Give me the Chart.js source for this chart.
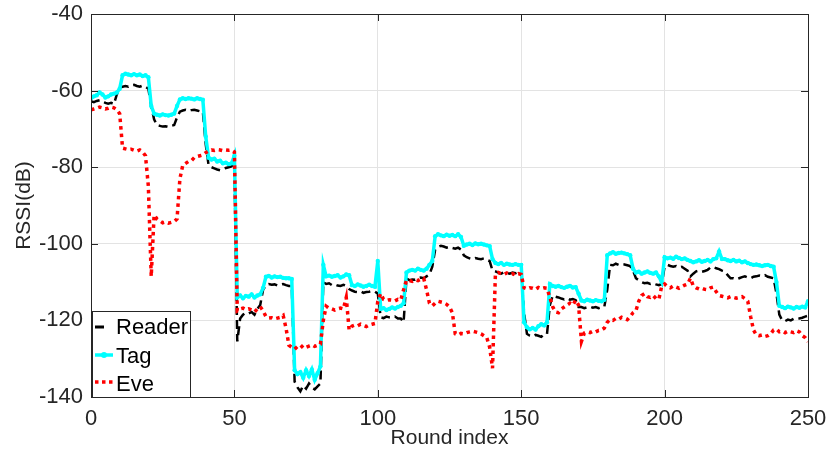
<!DOCTYPE html>
<html><head><meta charset="utf-8">
<script src="https://cdn.jsdelivr.net/npm/chart.js@4/dist/chart.umd.min.js"></script>
<style>html,body{margin:0;padding:0;background:#fff;}canvas{display:block;}</style>
</head><body>
<canvas id="c" width="828" height="463" style="width:828px;height:463px"></canvas>
<script>
const seriesNames = ['Reader', 'Tag', 'Eve'];
const xTickLabels = [0, 50, 100, 150, 200, 250];
const yTickLabels = [-140, -120, -100, -80, -60, -40];

// RSSI per round index (index 0..250)
const reader = [
-62.8,-63,-62.7,-62.5,-62.8,-63.2,-63.4,-63.2,-63.5,-61,-59.2,
-59,-58.8,-59,-58.6,-58.5,-58.8,-59,-58.7,-59,-59.5,
-64,-67.5,-69,-69.2,-69.4,-69.3,-69.5,-69.2,-69,-67,
-65.5,-65.2,-65,-65.3,-65.1,-65,-65.2,-65.4,-65.5,-74,
-79.5,-80,-80.3,-80.6,-80.8,-80.5,-80.2,-80,-79.8,-79,
-125.5,-119.5,-118.5,-118,-118.2,-117.8,-118.5,-117,-116,-112,
-110.8,-110.5,-110.7,-110.6,-110.9,-110.7,-110.5,-110.8,-111,-111,
-136,-137.5,-138.5,-137,-137.8,-136.5,-137.5,-138,-137.2,-136.5,
-110,-110.5,-110.3,-110.8,-110.6,-110.9,-111,-110.7,-111,-111.8,
-112.2,-112.5,-112.6,-112.4,-112.8,-112.6,-112.5,-112.3,-112.5,-113,
-119.2,-119.4,-119,-119.2,-119.3,-119,-119.5,-119.5,-120.5,-109,
-109.5,-109.3,-109.4,-109,-108.8,-109,-108.5,-108,-106,-101.5,
-100.8,-100.5,-100.7,-101,-100.8,-101.1,-101.3,-101,-101.5,-103,
-103.5,-103.8,-104,-103.7,-103.9,-104,-103.8,-104.2,-104.5,-107,
-107.2,-107.5,-107.8,-107.4,-107.6,-107.8,-107.5,-107.7,-107.4,-107.5,
-118,-123.5,-124,-124.2,-123.8,-124,-124.3,-123.6,-123.5,-116,
-113.5,-113.8,-114,-114.3,-114.5,-114.2,-114.6,-114.4,-114.7,-116.5,
-116.5,-116.8,-116.6,-116.4,-116.7,-116.5,-116.8,-116.6,-116.4,-112,
-105.5,-105.6,-105.2,-105.5,-105.3,-105.4,-105.6,-105.8,-107,-109,
-109.5,-110,-110.3,-110.2,-110.5,-110.3,-110.6,-110.8,-110.5,-106,
-105.5,-105.8,-106,-105.8,-106.2,-106,-106.5,-107,-108.5,-107.8,
-107.2,-107,-107.3,-107.1,-106.8,-106.2,-106,-106.4,-106.6,-107,
-107.2,-108.2,-109,-109,-109.3,-109,-108.7,-108.5,-108.8,-109,
-108.6,-108.5,-108.3,-108.5,-108.2,-108.6,-108.8,-109,-113,-118.5,
-120,-120.2,-119.8,-120,-119.6,-119.4,-119.5,-119.3,-119,-118.8
];
const tag = [
-62,-61.5,-61.2,-60.5,-61,-61.8,-61.5,-61,-60.8,-60.5,-59.5,
-56,-55.6,-55.8,-56,-55.7,-56,-55.8,-56.2,-56,-56.5,
-64,-66,-66.3,-66.5,-66.2,-66.4,-66.5,-66.3,-66,-64,
-62.3,-62,-62.2,-62,-62.1,-62.3,-62,-62.2,-62.4,-72,
-77.5,-78,-77.8,-78.5,-78.3,-79,-78.8,-79.2,-79,-77,
-114,-113.5,-114.2,-113.6,-113.8,-113.2,-114,-113.5,-113.2,-111.5,
-108.6,-108.4,-108.8,-108.5,-108.7,-108.6,-108.9,-109,-109,-109.2,
-133,-134,-133.5,-135,-133,-134.5,-132.8,-135.5,-133.8,-132,
-105.5,-108.5,-108.3,-108.6,-108.4,-108.2,-108.8,-108.5,-108,-108.2,
-110.8,-111,-110.6,-110.9,-111.2,-111,-110.7,-111,-111.2,-104.5,
-117,-116.8,-117.3,-117,-116.6,-116.9,-116.5,-116.2,-115.5,-107.5,
-107,-106.8,-107,-106.5,-106.8,-107,-106.5,-105.5,-104.5,-98,
-97.5,-97.8,-98,-97.6,-97.9,-97.7,-98,-97.5,-98.2,-100.5,
-100.2,-100,-100.3,-99.9,-100.1,-100,-100.2,-100.4,-100.6,-104,
-105,-105.3,-105,-105.5,-105.2,-105.4,-105.5,-105.3,-105.5,-105.5,
-120.5,-121.8,-122.3,-122,-122.4,-121.5,-121,-121.3,-120.5,-110.5,
-111,-111.2,-111,-111.3,-111.5,-111.2,-111,-111.4,-111.3,-113,
-114.8,-115,-114.6,-114.8,-115,-114.7,-114.9,-115,-114.6,-103,
-102.5,-102.2,-102.6,-102.4,-102.3,-102.5,-102.7,-103,-106.5,-107.5,
-107.3,-107.8,-107.5,-107.2,-107.6,-107.8,-107.5,-108.5,-110,-103.5,
-103.8,-103.6,-103.9,-103.4,-103.7,-104,-103.8,-104.2,-104.5,-104.8,
-104.6,-104.3,-104.7,-104.5,-104.2,-104.6,-104,-103.8,-102,-104,
-104,-104.3,-104.5,-104.2,-104.6,-104.4,-104.8,-104.6,-105,-105.3,
-105.5,-105.4,-105.6,-105.8,-105.6,-105.5,-105.8,-106,-110,-116.2,
-116.5,-116.8,-116.4,-116.6,-116.9,-116.5,-116.7,-116.4,-116.6,-115
];
const eve = [
-65,-64.8,-64.6,-64.3,-64.5,-64.8,-64.6,-64.3,-64.5,-65,-66,
-75,-75.2,-75.4,-75.3,-75.6,-75.8,-75.5,-76,-77,-85,
-108.5,-92.5,-93.5,-94,-94.5,-94.3,-94.6,-94.4,-94.2,-93.5,
-83,-79.5,-79,-78.5,-78.3,-77.5,-77.2,-77,-76.8,-76.2,
-75.8,-75.5,-75.6,-75.4,-75.5,-75.7,-75.5,-75.6,-75.5,-76,
-117.5,-117,-116.8,-117.2,-117,-117.3,-117.8,-117,-116.4,-117.5,
-119,-119.4,-119.3,-119.6,-119.4,-119.2,-118.7,-122,-126.5,-127,
-127.5,-126.8,-127.2,-126.5,-127,-126.7,-126.4,-126.8,-126.5,-126.2,
-120,-116.3,-116.8,-117,-117.3,-117,-116.8,-117,-114,-122.5,
-121.5,-121.2,-121.4,-121,-121.3,-121.6,-121.2,-121,-120.8,-115,
-113,-114.5,-114.8,-114.6,-114.7,-114.9,-114.5,-114.7,-112,-109.5,
-109.6,-109.8,-109.4,-109.6,-109.2,-109,-112,-115.5,-116.2,-115.5,
-115,-115.2,-115.4,-115.8,-116.5,-118,-123.5,-123.8,-123.4,-123.5,
-123.2,-123,-122.8,-123,-123.2,-123.5,-124,-124.5,-127,-132.5,
-108,-107.5,-107.8,-108,-107.6,-108,-107.8,-108.2,-107.8,-108,
-111.5,-111.8,-111.5,-111.6,-111.9,-111.4,-111.7,-111.5,-111.6,-114,
-116.5,-117.8,-118,-117,-116.5,-116,-115.5,-116,-114.7,-116,
-125.5,-123.3,-123,-123.2,-122.8,-123,-122.6,-122.5,-122,-120.5,
-119.8,-120,-119.5,-119.7,-119.2,-119.5,-119.8,-119,-118,-117.5,
-115,-113.5,-113,-113.8,-114,-113.5,-114.3,-114.5,-111,-110.5,
-111.2,-111.5,-111,-111.3,-111.6,-111.2,-110.8,-110.5,-109,-111,
-111.5,-111.8,-111.6,-111.9,-112,-111.5,-111.3,-112.5,-113.5,-113.7,
-113.9,-114.1,-113.8,-114,-114.2,-114,-113.8,-114.3,-115,-119,
-122.5,-123.8,-124,-123.8,-124.2,-124,-123.5,-122.5,-122.3,-123,
-122.8,-123.2,-122.8,-123,-123.2,-122.7,-123,-124,-124.5,-125.6
];

const toXY = arr => arr.map((v, i) => ({x: i, y: v}));
const FONT = '"Liberation Sans", Arial, Helvetica, sans-serif';
const AX = '#262626';

const framePlugin = {
  id: 'frame',
  afterDatasetsDraw(chart) {
    const {ctx, chartArea: a, scales} = chart;
    ctx.save();
    ctx.strokeStyle = AX; ctx.lineWidth = 1;
    ctx.beginPath();
    ctx.rect(Math.round(a.left) + 0.5, Math.round(a.top) + 0.5, Math.round(a.right - a.left), Math.round(a.bottom - a.top));
    const tl = 7;
    xTickLabels.forEach(t => {
      const x = Math.round(scales.x.getPixelForValue(t)) + 0.5;
      ctx.moveTo(x, a.bottom); ctx.lineTo(x, a.bottom - tl);
      ctx.moveTo(x, a.top); ctx.lineTo(x, a.top + tl);
    });
    yTickLabels.forEach(t => {
      const y = Math.round(scales.y.getPixelForValue(t)) + 0.5;
      ctx.moveTo(a.left, y); ctx.lineTo(a.left + tl, y);
      ctx.moveTo(a.right, y); ctx.lineTo(a.right - tl, y);
    });
    ctx.stroke();
    ctx.restore();
  },
  afterDraw(chart) {
    const {ctx, chartArea: a} = chart;
    const L = a.left + 1, T = a.bottom - 86, W = 98, H = 86;
    ctx.save();
    ctx.fillStyle = '#fff';
    ctx.fillRect(L, T, W, H);
    ctx.strokeStyle = AX; ctx.lineWidth = 1;
    ctx.strokeRect(L + 0.5, T + 0.5, W, H);
    const x0 = L + 3, x1 = L + 21, tx = L + 24;
    const rows = [T + 16, T + 44, T + 71];
    const bases = [T + 23, T + 52, T + 80];
    // Reader
    ctx.setLineDash([9, 9]); ctx.strokeStyle = '#000'; ctx.lineWidth = 3;
    ctx.beginPath(); ctx.moveTo(x0, rows[0]); ctx.lineTo(x1, rows[0]); ctx.stroke();
    // Tag
    ctx.setLineDash([]); ctx.strokeStyle = '#00ffff'; ctx.lineWidth = 3.5;
    ctx.beginPath(); ctx.moveTo(x0, rows[1]); ctx.lineTo(x1, rows[1]); ctx.stroke();
    ctx.fillStyle = '#00ffff';
    ctx.beginPath(); ctx.arc((x0 + x1) / 2, rows[1], 3, 0, Math.PI * 2); ctx.fill();
    // Eve
    ctx.setLineDash([3.5, 3.5]); ctx.strokeStyle = '#ff0000'; ctx.lineWidth = 3.5;
    ctx.beginPath(); ctx.moveTo(x0, rows[2]); ctx.lineTo(x1, rows[2]); ctx.stroke();
    ctx.setLineDash([]);
    ctx.fillStyle = '#000';
    ctx.font = '22px ' + FONT;
    ctx.textBaseline = 'alphabetic'; ctx.textAlign = 'left';
    seriesNames.forEach((n, i) => ctx.fillText(n, tx, bases[i]));
    ctx.restore();
  }
};

new Chart(document.getElementById('c'), {
  type: 'line',
  data: {
    datasets: [
      {label: seriesNames[0], data: toXY(reader), borderColor: '#000', borderWidth: 2.5, borderDash: [9, 5], pointRadius: 0, order: 3, tension: 0},
      {label: seriesNames[1], data: toXY(tag), borderColor: '#00ffff', backgroundColor: '#00ffff', borderWidth: 3.5, pointRadius: 2.2, pointBorderWidth: 0, pointBackgroundColor: '#00ffff', order: 2, tension: 0},
      {label: seriesNames[2], data: toXY(eve), borderColor: '#ff0000', borderWidth: 3.5, borderDash: [3.5, 4], pointRadius: 0, order: 1, tension: 0}
    ]
  },
  options: {
    responsive: false,
    animation: false,
    devicePixelRatio: 1,
    layout: {padding: {top: 14, right: 20, left: 0, bottom: 0}},
    plugins: {legend: {display: false}, tooltip: {enabled: false}},
    scales: {
      x: {
        type: 'linear', min: 0, max: 250,
        afterBuildTicks: s => { s.ticks = xTickLabels.map(v => ({value: v})); },
        afterFit: s => { s.height = 66; s.paddingLeft = 0; s.paddingRight = 0; },
        grid: {color: '#e3e3e3', lineWidth: 1, drawTicks: false},
        border: {display: true, color: AX, width: 1},
        ticks: {color: AX, font: {family: FONT, size: 22}, padding: 9, maxRotation: 0, autoSkip: false},
        title: {display: true, text: 'Round index', color: AX, font: {family: FONT, size: 21}, padding: {top: 0, bottom: 12}}
      },
      y: {
        type: 'linear', min: -140, max: -40,
        afterBuildTicks: s => { s.ticks = yTickLabels.map(v => ({value: v})); },
        afterFit: s => { s.width = 91; s.paddingTop = 0; s.paddingBottom = 0; },
        grid: {color: '#e3e3e3', lineWidth: 1, drawTicks: false},
        border: {display: true, color: AX, width: 1},
        ticks: {color: AX, font: {family: FONT, size: 22}, padding: 8, autoSkip: false},
        title: {display: true, text: 'RSSI(dB)', color: AX, font: {family: FONT, size: 21}, padding: {top: 12, bottom: 0}}
      }
    }
  },
  plugins: [framePlugin]
});
</script>
</body></html>
